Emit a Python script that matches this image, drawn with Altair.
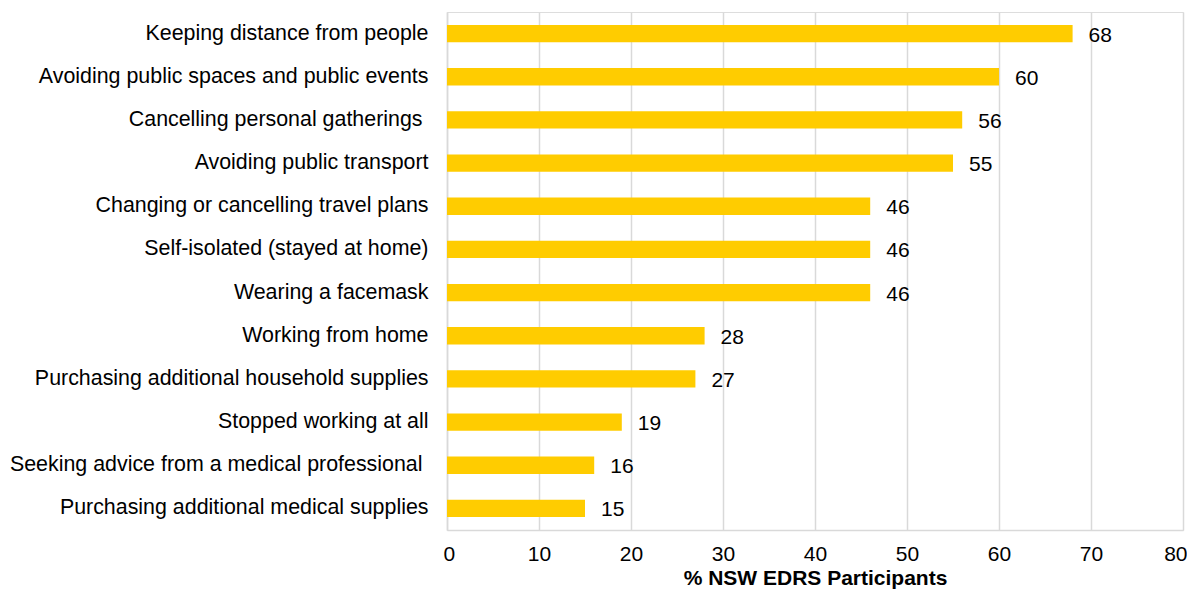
import altair as alt
import pandas as pd

categories = [
    "Keeping distance from people",
    "Avoiding public spaces and public events",
    "Cancelling personal gatherings ",
    "Avoiding public transport",
    "Changing or cancelling travel plans",
    "Self-isolated (stayed at home)",
    "Wearing a facemask",
    "Working from home",
    "Purchasing additional household supplies",
    "Stopped working at all",
    "Seeking advice from a medical professional ",
    "Purchasing additional medical supplies",
]
values = [68, 60, 56, 55, 46, 46, 46, 28, 27, 19, 16, 15]

df = pd.DataFrame({"category": categories, "value": values})

FONT = "Liberation Sans"
FS = 21

y = alt.Y(
    "category:N",
    sort=categories,
    title=None,
    scale=alt.Scale(paddingInner=0.6, paddingOuter=0.3),
    axis=alt.Axis(
        labelFontSize=21.4,
        labelFont=FONT,
        labelColor="#000000",
        labelPadding={
            "condition": {"test": "slice(datum.value, -1) == ' '", "value": 25},
            "value": 19,
        },
        ticks=False,
        domain=True,
        domainColor="#d9d9d9",
        domainWidth=1.5,
        grid=False,
        labelLimit=500,
    ),
)
x = alt.X(
    "value:Q",
    title="% NSW EDRS Participants",
    scale=alt.Scale(domain=[0, 80]),
    axis=alt.Axis(
        values=list(range(0, 81, 10)),
        labelFontSize=FS,
        labelFont=FONT,
        labelColor="#000000",
        labelPadding=13,
        labelFlush=True,
        labelFlushOffset=4,
        ticks=False,
        domainColor="#d9d9d9",
        domainWidth=1.5,
        gridColor="#d9d9d9",
        gridWidth=1.5,
        titleFontSize=FS,
        titleFont=FONT,
        titleFontWeight="bold",
        titleColor="#000000",
        titlePadding=3,
    ),
)

bars = alt.Chart(df).mark_bar(color="#FFCC00").encode(x=x, y=y)
labels = alt.Chart(df).mark_text(
    align="left", baseline="middle", dx=16, dy=2, fontSize=FS, font=FONT, color="#000000"
).encode(x="value:Q", y=alt.Y("category:N", sort=categories), text="value:Q")

chart = (
    (bars + labels)
    .properties(
        width=736,
        height=518,
        autosize=alt.AutoSizeParams(type="none"),
        padding={"left": 439, "top": 4, "right": 4, "bottom": 60},
    )
    .configure_view(stroke=None)
    .configure(background="#ffffff")
)

chart.save("out.html", embed_options={"renderer": "svg", "actions": False})
